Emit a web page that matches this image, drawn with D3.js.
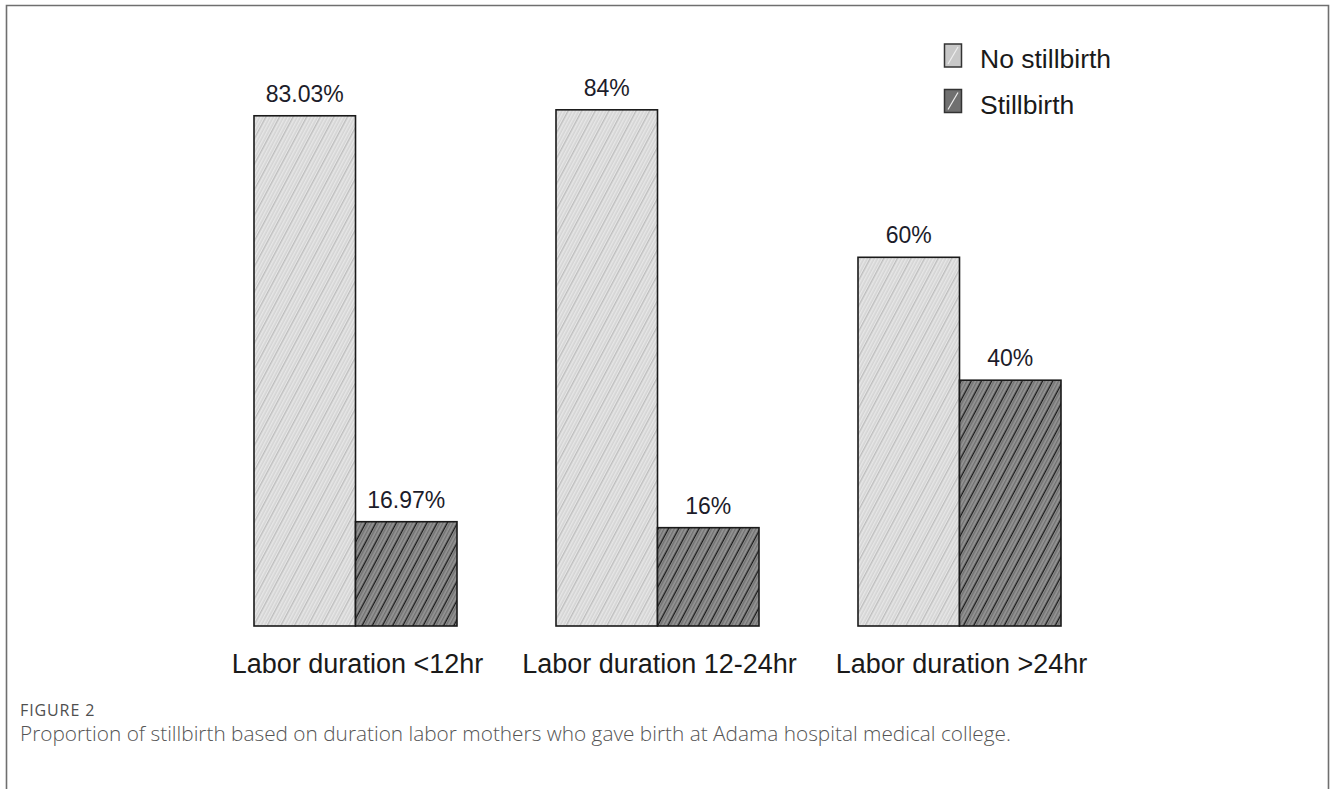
<!DOCTYPE html>
<html>
<head>
<meta charset="utf-8">
<script src="https://cdn.jsdelivr.net/npm/d3@7/dist/d3.min.js"></script>
<style>
  html, body { margin: 0; padding: 0; background: #fff; }
  svg { display: block; }
</style>
</head>
<body>
<svg id="chart" width="1330" height="789"></svg>
<script>
// ---- data ----
const categories = ["Labor duration <12hr", "Labor duration 12-24hr", "Labor duration >24hr"];
const series = ["No stillbirth", "Stillbirth"];
const noStillbirth = [83.03, 84, 60];
const stillbirth = [16.97, 16, 40];
const valueLabels = [["83.03%", "16.97%"], ["84%", "16%"], ["60%", "40%"]];
const figureLabel = "FIGURE 2";
const caption = "Proportion of stillbirth based on duration labor mothers who gave birth at Adama hospital medical college.";

const svg = d3.select("#chart");
const W = 1330, H = 789;

// frame (top, left, right)
svg.append("path")
  .attr("d", `M6.5,${H} L6.5,5.5 L1328.5,5.5 L1328.5,${H}`)
  .attr("fill", "none").attr("stroke", "#6f6f6f").attr("stroke-width", 1.6);

// ---- patterns ----
const defs = svg.append("defs");
function hatch(id, bg, fine, fineOp, strong, strongW, strongSpacing) {
  const p = defs.append("pattern").attr("id", id)
    .attr("patternUnits", "userSpaceOnUse")
    .attr("width", strongSpacing).attr("height", strongSpacing)
    .attr("patternTransform", "rotate(28)");
  p.append("rect").attr("width", strongSpacing).attr("height", strongSpacing).attr("fill", bg);
  for (let i = 0; i < strongSpacing; i += 3) {
    p.append("line").attr("x1", i + 0.75).attr("x2", i + 0.75).attr("y1", 0).attr("y2", strongSpacing)
      .attr("stroke", fine).attr("stroke-opacity", fineOp).attr("stroke-width", 1.1);
  }
  p.append("line").attr("x1", 1.5).attr("x2", 1.5).attr("y1", 0).attr("y2", strongSpacing)
    .attr("stroke", strong).attr("stroke-width", strongW);
}
hatch("patLight", "#d4d4d4", "#ffffff", 0.55, "#bdbdbd", 1, 12);
hatch("patDark", "#969696", "#555555", 0.7, "#1a1a1a", 1.2, 9);
const fills = ["url(#patLight)", "url(#patDark)"];

// ---- scales ----
const y = d3.scaleLinear().domain([0, 100]).range([626, 11.5]);
const x = d3.scalePoint().domain(categories).range([355.5, 959.5]);
const xSub = d3.scaleBand().domain(series).range([-101.5, 101.5]);

const rows = categories.map((c, i) => ({ cat: c, vals: [noStillbirth[i], stillbirth[i]], labels: valueLabels[i] }));

const g = svg.append("g");
rows.forEach(r => {
  r.vals.forEach((v, j) => {
    const x0 = x(r.cat) + xSub(series[j]);
    g.append("rect")
      .attr("x", x0).attr("y", y(v))
      .attr("width", xSub.bandwidth()).attr("height", y(0) - y(v))
      .attr("fill", fills[j]).attr("stroke", "#1a1a1a").attr("stroke-width", 1.6);
    g.append("text")
      .attr("x", x0 + xSub.bandwidth() / 2).attr("y", y(v) - 14)
      .attr("text-anchor", "middle")
      .attr("font-family", "Liberation Sans, Arial, sans-serif")
      .attr("font-size", 23).attr("fill", "#1c1c2a")
      .text(r.labels[j]);
  });
});

// category axis labels
svg.append("g").selectAll("text").data(categories).join("text")
  .attr("x", d => x(d) + 2).attr("y", 673)
  .attr("text-anchor", "middle")
  .attr("font-family", "Liberation Sans, Arial, sans-serif")
  .attr("font-size", 27).attr("fill", "#1a1a1a")
  .text(d => d);

// legend
const legend = svg.append("g");
series.forEach((s, j) => {
  const ly = 44 + j * 45.5;
  legend.append("rect").attr("x", 944.5).attr("y", ly).attr("width", 17).attr("height", 23)
    .attr("fill", j === 0 ? "#c8c8c8" : "#707070").attr("stroke", "#333").attr("stroke-width", 1.5);
  legend.append("line").attr("x1", 948).attr("y1", ly + 20).attr("x2", 958).attr("y2", ly + 3)
    .attr("stroke", "#eee").attr("stroke-width", 1.2);
  legend.append("text").attr("x", 980).attr("y", ly + 24)
    .attr("font-family", "Liberation Sans, Arial, sans-serif")
    .attr("font-size", 26.5).attr("fill", "#1a1a1a")
    .text(s);
});

// caption
svg.append("text").attr("x", 20).attr("y", 716)
  .attr("font-family", "Open Sans, sans-serif").attr("font-size", 16)
  .attr("fill", "#4f4f4f").attr("letter-spacing", 0.9).text(figureLabel);
svg.append("text").attr("x", 20).attr("y", 741)
  .attr("font-family", "Open Sans, sans-serif").attr("font-size", 20.8)
  .attr("font-weight", 300)
  .attr("fill", "#555").text(caption);
</script>
</body>
</html>
